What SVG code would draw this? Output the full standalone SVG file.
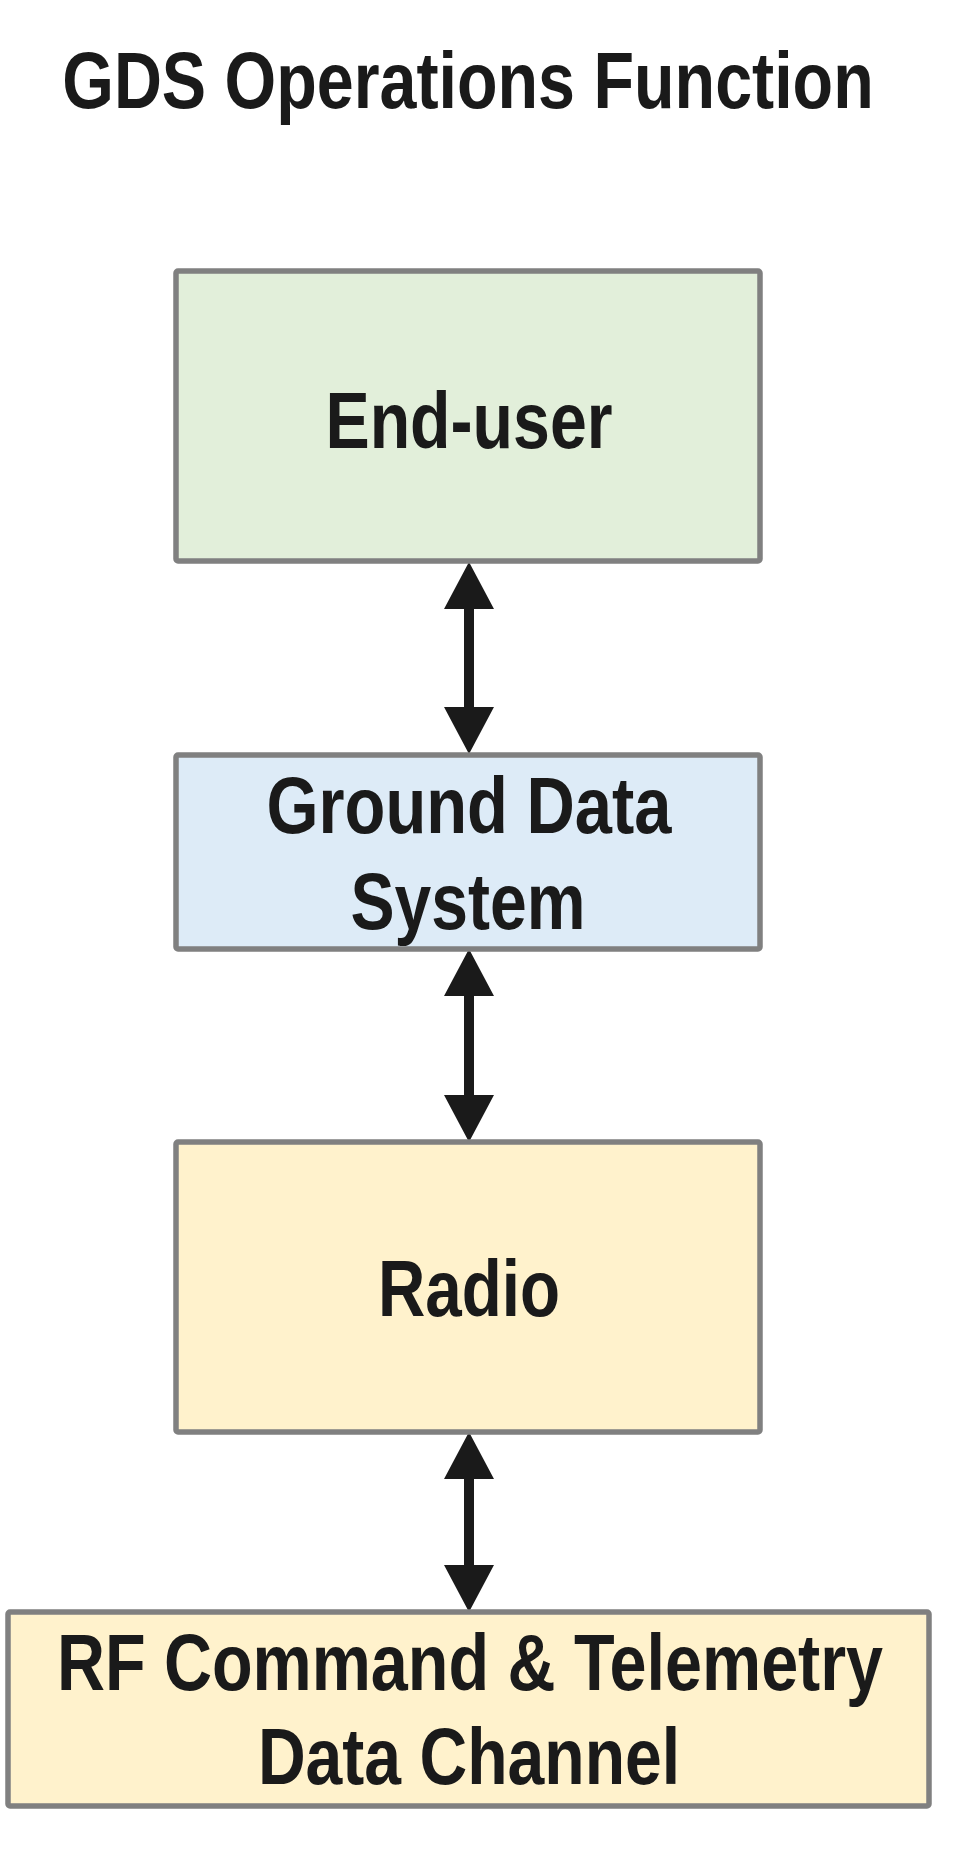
<svg xmlns="http://www.w3.org/2000/svg" width="953" height="1856" viewBox="0 0 953 1856">
  <style>
    .box { stroke: #808080; stroke-width: 5.5; stroke-linejoin: round; }
    .lbl { font-family: "Liberation Sans", Arial, sans-serif; font-weight: bold; font-size: 80px; fill: #1a1a1a; text-anchor: middle; }
    .conn { stroke: #1a1a1a; stroke-width: 10; fill: none; marker-start: url(#head); marker-end: url(#head); }
  </style>
  <defs>
    <marker id="head" viewBox="0 0 47 50" refX="0" refY="25" markerWidth="47" markerHeight="50" markerUnits="userSpaceOnUse" orient="auto-start-reverse">
      <path d="M0,0 L47,25 L0,50 Z" fill="#1a1a1a"/>
    </marker>
  </defs>
  <rect width="953" height="1856" fill="#ffffff"/>

  <g id="title">
    <text class="lbl" transform="translate(468,108) scale(0.830,1)" x="0" y="0">GDS Operations Function</text>
  </g>

  <g id="connectors">
    <line class="conn" x1="469" y1="609" x2="469" y2="707"/>
    <line class="conn" x1="469" y1="996" x2="469" y2="1095"/>
    <line class="conn" x1="469" y1="1479" x2="469" y2="1565"/>
  </g>

  <g id="end-user">
    <rect class="box" x="176" y="271" width="584" height="290" rx="2" fill="#e2efda"/>
    <text class="lbl" transform="translate(469,448) scale(0.828,1)" x="0" y="0">End-user</text>
  </g>

  <g id="ground-data-system">
    <rect class="box" x="176" y="755" width="584" height="194" rx="2" fill="#ddebf7"/>
    <text class="lbl" transform="translate(469,833) scale(0.836,1)" x="0" y="0">Ground Data</text>
    <text class="lbl" transform="translate(468,929) scale(0.826,1)" x="0" y="0">System</text>
  </g>

  <g id="radio">
    <rect class="box" x="176" y="1142" width="584" height="290" rx="2" fill="#fff2cc"/>
    <text class="lbl" transform="translate(469,1316) scale(0.819,1)" x="0" y="0">Radio</text>
  </g>

  <g id="rf-channel">
    <rect class="box" x="8" y="1612" width="921" height="194" rx="2" fill="#fff2cc"/>
    <text class="lbl" transform="translate(470,1690) scale(0.831,1)" x="0" y="0">RF Command &amp; Telemetry</text>
    <text class="lbl" transform="translate(469,1784) scale(0.826,1)" x="0" y="0">Data Channel</text>
  </g>
</svg>
